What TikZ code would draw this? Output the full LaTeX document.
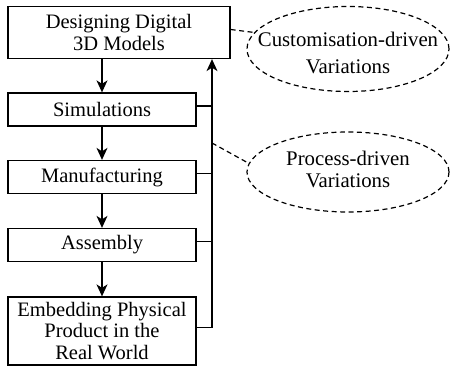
\documentclass[tikz,border=0pt]{standalone}
\usepackage{fontspec}
\setmainfont{Liberation Serif}
\usetikzlibrary{arrows.meta,shapes.geometric,calc}
\newcommand{\elltext}[2]{\smash{\makebox[0pt]{\raisebox{#1}{\begin{tabular}{@{}c@{}}#2\end{tabular}}}}}
\begin{document}
\begin{tikzpicture}[x=1pt,y=-1pt,
  every node/.style={font=\fontsize{20.5}{21.5}\selectfont},
  stepbox/.style={draw,line width=1.3pt,inner sep=0pt,align=center,minimum width=188pt,minimum height=33pt},
  varell/.style={draw,ellipse,line width=1.2pt,dash pattern=on 5pt off 3.5pt,inner sep=0pt,minimum width=202pt,font=\fontsize{20.8}{21.5}\selectfont},
  arr/.style={line width=1.3pt,-{Stealth[length=12pt,width=11pt,inset=3.5pt]}},
  link/.style={line width=1.3pt},
  dashlink/.style={line width=1.2pt,dash pattern=on 5pt off 3.5pt}]
\useasboundingbox (0,0) rectangle (450,366);
\node[stepbox,minimum width=222pt,minimum height=52pt] (box1) at (119,32.5) {Designing Digital\\3D Models};
\node[stepbox] (sim) at (102,109.5) {Simulations};
\node[stepbox] (manu) at (102,177) {Manufacturing};
\node[stepbox] (asm) at (102,245) {Assembly};
\node[stepbox,minimum height=68pt] (emb) at (102,331) {Embedding Physical\\Product in the\\Real World};
\node[varell,minimum height=85pt] (ell1) at (348,49) {\elltext{-12pt}{Customisation-driven\\[6pt]Variations}};
\node[varell,minimum height=80pt] (ell2) at (348,172) {\elltext{-5.5pt}{Process-driven\\Variations}};
% down arrows
\draw[arr] (box1.south -| sim.north) -- (sim.north);
\draw[arr] (sim.south) -- (manu.north);
\draw[arr] (manu.south) -- (asm.north);
\draw[arr] (asm.south) -- (emb.north);
% feedback
\coordinate (top) at (212,0 |- box1.south);
\coordinate (e1) at ([yshift=3.5pt]emb.east);
\coordinate (s1) at ([yshift=3.5pt]sim.east);
\coordinate (m1) at ([yshift=3.5pt]manu.east);
\coordinate (a1) at ([yshift=3.5pt]asm.east);
\draw[arr] (e1) -| (top);
\draw[link] (s1) -- (s1 -| top);
\draw[link] (m1) -- (m1 -| top);
\draw[link] (a1) -- (a1 -| top);
% dashed connectors
\coordinate (d1) at ([yshift=3pt]box1.east);
\coordinate (d2) at (212,143);
\draw[dashlink] (d1) -- (ell1.170);
\draw[dashlink] (d2) -- (ell2.175);
\end{tikzpicture}
\end{document}
